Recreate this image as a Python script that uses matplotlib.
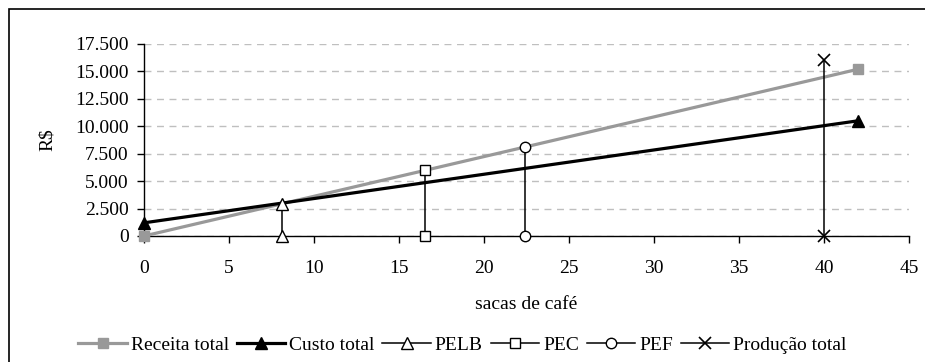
import matplotlib
matplotlib.use("Agg")
import matplotlib.pyplot as plt
from matplotlib.ticker import FuncFormatter, MultipleLocator
from matplotlib.patches import Rectangle

# Data
receita_x = [0, 42]
receita_y = [0, 15200]
custo_x = [0, 42]
custo_y = [1200, 10500]
pelb_x = [8.1, 8.1]
pelb_y = [0, 2900]
pec_x = [16.5, 16.5]
pec_y = [0, 6000]
pef_x = [22.4, 22.4]
pef_y = [0, 8100]
prod_x = [40, 40]
prod_y = [0, 16000]

plt.rcParams['font.family'] = ['Liberation Serif', 'DejaVu Serif']
FS = 14

fig = plt.figure(figsize=(9.25, 3.62), dpi=100)
ax = fig.add_axes([144/925, 1-236/362, (909-144)/925, (236-44)/362])

# outer border
fig.patches.append(Rectangle((9/925, -0.1), 1.2, 1.1 - 9/362, transform=fig.transFigure,
                             fill=False, edgecolor='black', linewidth=1.2))

ax.grid(axis='y', color='#BFBFBF', linestyle=(0, (5, 4)), linewidth=1)
ax.set_axisbelow(True)

ax.plot(receita_x, receita_y, color='#999999', lw=2.3, marker='s', ms=7.5,
        label='Receita total', zorder=3, clip_on=False)
ax.plot(custo_x, custo_y, color='black', lw=2.3, marker='^', ms=8,
        label='Custo total', zorder=4, clip_on=False)
ax.plot(pelb_x, pelb_y, color='black', lw=1.1, marker='^', ms=8, mfc='white',
        mec='black', label='PELB', zorder=5, clip_on=False)
ax.plot(pec_x, pec_y, color='black', lw=1.1, marker='s', ms=7.5, mfc='white',
        mec='black', label='PEC', zorder=5, clip_on=False)
ax.plot(pef_x, pef_y, color='black', lw=1.1, marker='o', ms=7.5, mfc='white',
        mec='black', label='PEF', zorder=5, clip_on=False)
ax.plot(prod_x, prod_y, color='black', lw=1.1, marker='x', ms=8, mew=1.2,
        label='Produção total', zorder=5, clip_on=False)

ax.set_xlim(0, 45)
ax.set_ylim(0, 17500)
ax.xaxis.set_major_locator(MultipleLocator(5))
ax.yaxis.set_major_locator(MultipleLocator(2500))
ax.yaxis.set_major_formatter(FuncFormatter(lambda v, p: f"{int(v):,}".replace(',', '.')))

for s in ['top', 'right']:
    ax.spines[s].set_visible(False)
ax.spines['left'].set_linewidth(1.0)
ax.spines['bottom'].set_linewidth(1.0)
ax.tick_params(axis='both', direction='out', length=5, width=1, labelsize=FS)
ax.tick_params(axis='x', pad=12)
ax.tick_params(axis='y', pad=6)

ax.set_xlabel('sacas de café', fontsize=FS, labelpad=14)
ax.set_ylabel('R$', fontsize=FS, labelpad=14)

leg = fig.legend(loc='center', bbox_to_anchor=(0.5, 1-345/362), ncol=6, frameon=False,
                 fontsize=FS, handlelength=2.5, handletextpad=0.2, columnspacing=0.4)

fig.savefig('out.png', dpi=100)
